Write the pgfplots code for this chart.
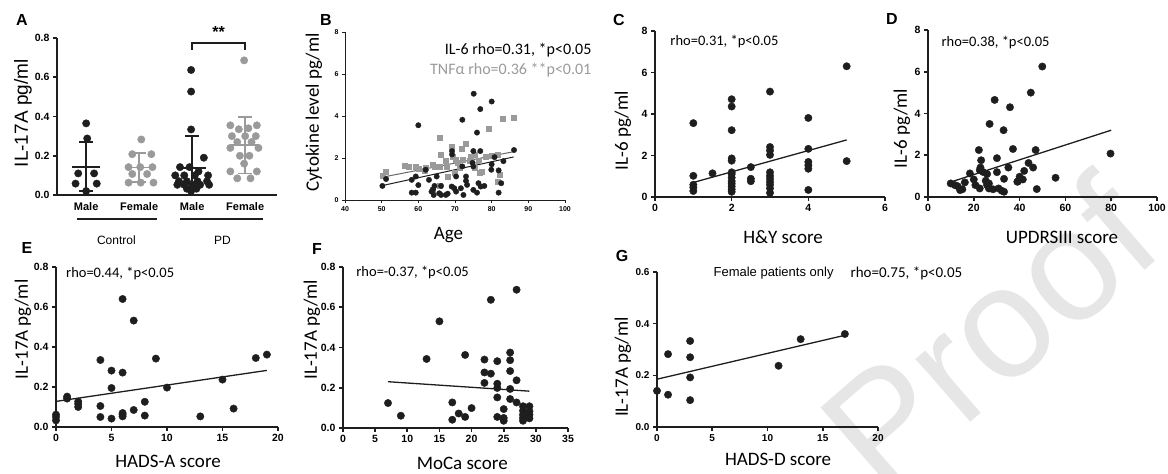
\documentclass[border=0pt]{standalone}
\usepackage{fontspec}
\setmainfont{Liberation Sans}
\newfontfamily\calibri{Carlito}
\usepackage{pgfplots}
\pgfplotsset{compat=1.18}
\definecolor{dk}{HTML}{1E1E1E}
\definecolor{gy}{HTML}{9A9A9A}
\definecolor{wm}{HTML}{E6E6E6}

\pgfplotsset{
  prism/.style={
    scale only axis, axis lines=left, axis line style={-, line width=2pt, dk},
    tick align=outside, major tick length=4pt, tick style={line width=1.6pt, dk},
    clip=false, enlargelimits=false, scaled ticks=false,
    tick label style={font=\fontsize{10.5}{12}\selectfont\bfseries},
    label style={font=\calibri\fontsize{19}{22}\selectfont},
    /pgf/number format/assume math mode=true,
    unbounded coords=jump,
  },
  onedec/.style={yticklabel style={/pgf/number format/fixed, /pgf/number format/fixed zerofill, /pgf/number format/precision=1}},
  dot/.style={only marks, mark=*, mark size=3.7pt, mark options={draw=dk, fill=dk}},
  gdot/.style={only marks, mark=*, mark size=3.7pt, mark options={draw=gy, fill=gy}},
  fit/.style={dk, line width=1.3pt, mark=none},
}
\tikzset{rho/.style={font=\calibri\fontsize{14.5}{16}\selectfont, anchor=west}}

\begin{document}
\begin{tikzpicture}[x=1pt, y=1pt]
\useasboundingbox (0,0) rectangle (1168,474);
\clip (0,0) rectangle (1168,474);
\node[rotate=41, text=wm, font=\fontsize{158}{158}\selectfont] at (988,142) {Proof};

% A
\begin{axis}[prism, onedec, at={(57pt,279pt)}, width=220pt, height=157pt,
  xmin=0.45, xmax=4.6, ymin=0, ymax=0.8, ytick={0,0.2,0.4,0.6,0.8},
  xtick={1,2,3,4}, xticklabels={Male,Female,Male,Female},
  x tick style={draw=none},
  x tick label style={font=\fontsize{11}{12}\selectfont\bfseries},
  ylabel={IL-17A pg/ml},
  ylabel style={font=\fontsize{19}{22}\selectfont, at={(axis description cs:-0.155,0.52)}, anchor=center}]
\addplot[dot] coordinates {(1.0,0.365) (1.02,0.288) (0.85,0.11) (1.15,0.11) (0.8,0.058) (1.2,0.058) (1.0,0.02)};
\addplot[gdot] coordinates {(2.04,0.283) (1.87,0.208) (2.23,0.208) (1.8,0.142) (2.02,0.142) (2.25,0.142) (1.87,0.107) (2.15,0.107) (1.8,0.063) (2.03,0.063) (2.27,0.063)};
\addplot[dot] coordinates {(2.98,0.637) (2.98,0.527) (2.98,0.334) (3.22,0.19) (2.77,0.142) (2.95,0.142) (3.12,0.12) (2.68,0.1) (2.85,0.1) (3.05,0.1) (3.3,0.1) (2.75,0.07) (2.9,0.07) (3.1,0.07) (3.28,0.07) (2.72,0.052) (2.85,0.052) (3.0,0.052) (3.15,0.052) (3.32,0.052) (2.9,0.032) (3.08,0.032) (2.98,0.02)};
\addplot[gdot] coordinates {(3.98,0.686) (3.72,0.355) (3.88,0.335) (4.06,0.34) (4.22,0.355) (3.75,0.30) (4.0,0.30) (4.2,0.30) (3.85,0.27) (4.12,0.27) (3.72,0.24) (4.25,0.24) (3.9,0.2) (4.08,0.2) (3.98,0.16) (3.72,0.12) (4.22,0.12) (3.85,0.085) (4.1,0.085)};
% mean and SD
\addplot[dk, line width=1.8pt] coordinates {(0.74,0.144) (1.26,0.144) (nan,nan) (1,0.02) (1,0.272) (nan,nan) (0.87,0.272) (1.13,0.272) (nan,nan) (0.87,0.02) (1.13,0.02)};
\addplot[gy, line width=1.8pt] coordinates {(1.74,0.14) (2.26,0.14) (nan,nan) (2,0.068) (2,0.215) (nan,nan) (1.87,0.215) (2.13,0.215) (nan,nan) (1.87,0.068) (2.13,0.068)};
\addplot[dk, line width=1.8pt] coordinates {(2.74,0.136) (3.26,0.136) (nan,nan) (3,0) (3,0.3) (nan,nan) (2.87,0.3) (3.13,0.3)};
\addplot[gy, line width=1.8pt] coordinates {(3.74,0.255) (4.26,0.255) (nan,nan) (4,0.11) (4,0.398) (nan,nan) (3.87,0.398) (4.13,0.398) (nan,nan) (3.87,0.11) (4.13,0.11)};
% bracket and group lines
\addplot[dk, line width=1.6pt] coordinates {(3,0.74) (3,0.775) (4,0.775) (4,0.74)};
\addplot[dk, line width=2pt] coordinates {(0.83,-0.122) (2.34,-0.122) (nan,nan) (2.77,-0.122) (4.34,-0.122)};
\node[font=\fontsize{16}{16}\selectfont\bfseries] at (axis cs:3.5,0.83) {**};
\node[font=\fontsize{12}{14}\selectfont] at (axis cs:1.57,-0.229) {Control};
\node[font=\fontsize{12}{14}\selectfont] at (axis cs:3.57,-0.229) {PD};
\end{axis}

% B
\begin{axis}[prism, at={(345pt,274pt)}, width=220pt, height=168pt,
  xmin=40, xmax=100, ymin=0, ymax=8, xtick={40,50,...,100}, ytick={0,2,4,6,8},
  axis line style={-, line width=0.9pt, dk}, tick style={line width=0.9pt, dk},
  major tick length=3pt, minor x tick num=4, minor tick length=1.5pt,
  tick label style={font=\fontsize{7}{8}\selectfont\bfseries},
  xlabel={Age}, ylabel={Cytokine level pg/ml},
  xlabel style={at={(axis description cs:0.47,-0.208)}, anchor=center},
  ylabel style={at={(axis description cs:-0.141,0.52)}, anchor=center}]
\addplot[only marks, mark=square*, mark size=2.5pt, mark options={draw=gy, fill=gy}] coordinates {
(51.2,1.36) (50.3,1.16) (56.2,1.64) (57.5,1.57) (59.3,1.57) (60,1.48) (61.6,1.41) (62.1,1.52) (63.9,1.69) (64.4,1.57) (65.7,1.57) (65.9,2.97) (66.2,2.17) (67.4,1.88) (67.6,1.6) (69,2.52) (69.4,2.05) (70.3,1.93) (70.7,1.77) (71.9,2.44) (73,2.68) (71.2,1.52) (72.1,1.93) (73.9,1.85) (74.4,2.05) (75.3,1.52) (75.5,2.17) (76.6,1.85) (77.4,1.36) (79.2,3.4) (78.5,2.05) (81.7,2.17) (81.7,0.88) (63.9,0.48) (65.7,0.67) (83,3.85) (86.1,3.9) (82.3,1.2) (76.8,1.3) (70,1.3) (68,1.1) (80,2.1)};
\addplot[only marks, mark=*, mark size=2.7pt, mark options={draw=dk, fill=dk}] coordinates {
(75.1,5.06) (80,4.69) (76.9,4.33) (60,3.56) (72,3.82) (76,3.21) (50.2,0.67) (51.2,1.0) (58.2,0.96) (59.3,1.12) (62,1.44) (58.2,0.35) (59.3,0.35) (60,0.71) (62.9,0.96) (64.4,0.67) (63.6,0.4) (64.2,0.24) (65.7,0.32) (66.2,0.24) (67.5,0.24) (66.2,0.67) (65,1.12) (69.2,2.33) (69.2,2.17) (70.3,1.12) (69.8,0.56) (69.1,0.64) (70.3,0.4) (71.6,0.56) (72.3,0.24) (73,1.12) (73,0.91) (73.3,0.72) (74.8,1.77) (75,1.6) (75,2.33) (76.9,2.33) (75,0.48) (76,0.35) (76.4,0.8) (78,0.67) (77,0.64) (79.9,1.44) (80.8,2.04) (81.9,1.41) (81.9,0.35) (82.6,0.8) (86.1,2.38) (83.2,1.85) (64,0.5) (68,0.3) (72,1.6) (80,1.7)};
\addplot[gy!60!dk, line width=1pt] coordinates {(50,1.08) (86,2.3)};
\addplot[dk, line width=1pt] coordinates {(50,0.68) (86,2.05)};
\node[font=\calibri\fontsize{16}{18}\selectfont, anchor=east] at (rel axis cs:1.136,0.893) {IL-6 rho=0.31, *p<0.05};
\node[font=\calibri\fontsize{16}{18}\selectfont, anchor=east, text=gy] at (rel axis cs:1.136,0.774) {TNFα rho=0.36 **p<0.01};
\end{axis}

% C
\begin{axis}[prism, at={(655pt,277pt)}, width=230pt, height=166pt,
  xmin=0, xmax=6, ymin=0, ymax=8, xtick={0,2,4,6}, ytick={0,2,4,6,8},
  xlabel={H\&Y score}, ylabel={IL-6 pg/ml},
  xlabel style={at={(axis description cs:0.557,-0.24)}, anchor=center},
  ylabel style={at={(axis description cs:-0.139,0.40)}, anchor=center}]
\addplot[dot] coordinates {(1,3.56) (1,1.02) (1,0.59) (1,0.46) (1,0.29) (1.5,1.14)
(2,4.71) (2,4.36) (2,3.22) (2,1.86) (2,1.75) (2,1.19) (2,1.1) (2,0.93) (2,0.76) (2,0.64) (2,0.51) (2,0.37) (2,0.25)
(2.5,1.44) (2.5,0.88) (2.5,0.76)
(3,5.08) (3,2.41) (3,2.24) (3,2.03) (3,1.19) (3,1.02) (3,0.88) (3,0.73) (3,0.59) (3,0.42) (3,0.2)
(4,3.81) (4,2.32) (4,1.69) (4,1.53) (4,1.36) (4,0.34) (5,6.3) (5,1.73)};
\addplot[fit] coordinates {(1,0.7) (5,2.75)};
\node[rho] at (rel axis cs:0.052,0.934) {rho=0.31, *p<0.05};
\end{axis}

% D
\begin{axis}[prism, at={(928pt,277pt)}, width=229pt, height=167pt,
  xmin=0, xmax=100, ymin=0, ymax=8, xtick={0,20,...,100}, ytick={0,2,4,6,8},
  xlabel={UPDRSIII score}, ylabel={IL-6 pg/ml},
  xlabel style={at={(axis description cs:0.585,-0.24)}, anchor=center},
  ylabel style={at={(axis description cs:-0.114,0.41)}, anchor=center}]
\addplot[dot] coordinates {(49.9,6.25) (44.9,5.0) (29.1,4.65) (35.8,4.3) (26.9,3.5) (33,3.2)
(22.2,2.25) (37.1,2.3) (47,2.25) (79.7,2.08) (23.2,1.76) (30.1,1.86) (22.9,1.41) (18.3,1.13) (22.6,1.29)
(25.8,1.1) (35.1,1.41) (43.9,1.63) (45.9,1.41) (42,1.25) (30.1,1.19) (20,0.84) (16.1,0.7) (25.2,0.78)
(26.6,0.65) (33.2,0.87) (40,0.97) (39.3,0.75) (41.4,0.84) (55.7,0.92) (9.9,0.65) (11.7,0.57) (12.9,0.52)
(15,0.37) (14,0.33) (20.7,0.57) (22.6,0.41) (25.8,0.57) (26.6,0.41) (28.4,0.37) (30.8,0.41) (32.2,0.3)
(33.2,0.25) (39,0.73) (47.5,0.38) (24,1.2)};
\addplot[fit] coordinates {(10,0.72) (80,3.2)};
\node[rho] at (rel axis cs:0.044,0.928) {rho=0.38, *p<0.05};
\end{axis}

% E
\begin{axis}[prism, onedec, at={(56pt,47pt)}, width=222pt, height=160pt,
  xmin=0, xmax=20, ymin=0, ymax=0.8, xtick={0,5,...,20}, ytick={0,0.2,0.4,0.6,0.8},
  xlabel={HADS-A score}, ylabel={IL-17A pg/ml},
  xlabel style={at={(axis description cs:0.505,-0.215)}, anchor=center},
  ylabel style={at={(axis description cs:-0.149,0.61)}, anchor=center}]
\addplot[dot] coordinates {(0,0.062) (0,0.05) (0,0.033) (1,0.152) (1,0.142) (2,0.127) (2,0.115) (2,0.1)
(4,0.335) (4,0.105) (4,0.05) (5,0.282) (5,0.195) (5,0.042) (6,0.64) (6,0.272) (6,0.07) (6,0.062) (6,0.053)
(7,0.532) (7,0.085) (8,0.126) (8,0.057) (9,0.342) (10,0.197) (13,0.053) (15,0.237) (16,0.092) (18,0.345) (19,0.362)};
\addplot[fit] coordinates {(0,0.128) (19,0.283)};
\node[rho] at (rel axis cs:0.03,0.96) {rho=0.44, *p<0.05};
\end{axis}

% F
\begin{axis}[prism, onedec, at={(343pt,46pt)}, width=225pt, height=161pt,
  xmin=0, xmax=35, ymin=0, ymax=0.8, xtick={0,5,...,35}, ytick={0,0.2,0.4,0.6,0.8},
  xlabel={MoCa score}, ylabel={IL-17A pg/ml},
  xlabel style={at={(axis description cs:0.53,-0.222)}, anchor=center},
  ylabel style={at={(axis description cs:-0.138,0.61)}, anchor=center}]
\addplot[dot] coordinates {(7,0.124) (9,0.061) (13,0.343) (15,0.53) (17,0.127) (17,0.041) (18,0.072)
(19,0.363) (19,0.055) (20,0.099) (22,0.34) (22,0.276) (22,0.224) (23,0.637) (23,0.27)
(24,0.332) (24,0.22) (24,0.199) (24,0.152) (24,0.055) (25,0.094) (25,0.05) (25,0.036)
(26,0.375) (26,0.337) (26,0.283) (26,0.194) (26,0.144) (27,0.687) (27,0.237) (27,0.127)
(28,0.108) (28,0.086) (28,0.066) (28,0.05) (28,0.036) (29,0.108) (29,0.083) (29,0.066) (29,0.048)};
\addplot[fit] coordinates {(7,0.23) (29,0.183)};
\node[rho] at (rel axis cs:0.044,0.963) {rho=-0.37, *p<0.05};
\end{axis}

% G
\begin{axis}[prism, onedec, at={(657pt,47pt)}, width=221pt, height=155pt,
  xmin=0, xmax=20, ymin=0, ymax=0.6, xtick={0,5,...,20}, ytick={0,0.2,0.4,0.6},
  tick label style={font=\fontsize{10}{12}\selectfont\bfseries},
  xlabel={HADS-D score}, ylabel={IL-17A pg/ml},
  xlabel style={at={(axis description cs:0.548,-0.206)}, anchor=center},
  ylabel style={at={(axis description cs:-0.154,0.387)}, anchor=center}]
\addplot[dot] coordinates {(0,0.14) (1,0.282) (1,0.125) (3,0.333) (3,0.27) (3,0.192) (3,0.104) (11,0.237) (13,0.34) (17,0.36)};
\addplot[fit] coordinates {(0,0.185) (17,0.355)};
\node[anchor=west, font=\fontsize{13}{15}\selectfont] at (rel axis cs:0.24,0.994) {Female patients only};
\node[rho, font=\calibri\fontsize{15}{17}\selectfont] at (rel axis cs:0.86,0.994) {rho=0.75, *p<0.05};
\end{axis}

% panel letters
\begin{scope}[every node/.style={font=\fontsize{16}{16}\selectfont\bfseries}]
\node at (22,454) {A};
\node at (326,454) {B};
\node at (619,454) {C};
\node at (892,455) {D};
\node at (27,226) {E};
\node at (317,225) {F};
\node at (622,218) {G};
\end{scope}
\end{tikzpicture}
\end{document}
